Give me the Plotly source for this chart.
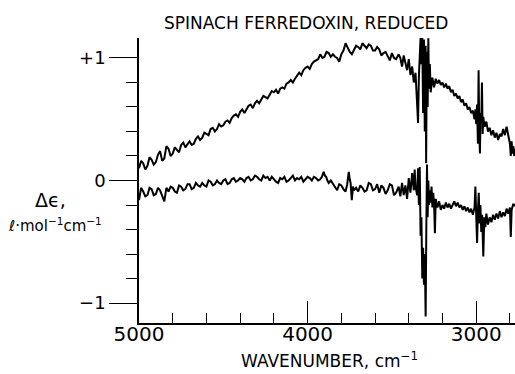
import plotly.graph_objects as go

# ---------------- data ----------------
upper_wn = [5000, 4987.5, 4975, 4962.5, 4950, 4937.5, 4925, 4912.5, 4900, 4887.5, 4875, 4862.5, 4850, 4837.5,
            4825, 4812.5, 4800, 4787.5, 4775, 4762.5, 4750, 4737.5, 4725, 4712.5, 4700, 4687.5, 4675, 4662.5,
            4650, 4637.5, 4625, 4612.5, 4600, 4587.5, 4575, 4562.5, 4550, 4537.5, 4525, 4512.5, 4500, 4487.5,
            4475, 4462.5, 4450, 4437.5, 4425, 4412.5, 4400, 4387.5, 4375, 4362.5, 4350, 4337.5, 4325, 4312.5,
            4300, 4287.5, 4275, 4262.5, 4250, 4237.5, 4225, 4212.5, 4200, 4187.5, 4175, 4162.5, 4150, 4137.5,
            4125, 4112.5, 4100, 4087.5, 4075, 4062.5, 4050, 4037.5, 4025, 4012.5, 4000, 3987.5, 3975, 3962.5,
            3950, 3937.5, 3925, 3912.5, 3900, 3887.5, 3875, 3862.5, 3850, 3837.5, 3825, 3812.5, 3800, 3787.5,
            3775, 3762.5, 3750, 3737.5, 3725, 3712.5, 3700, 3687.5, 3675, 3662.5, 3650, 3637.5, 3625, 3612.5,
            3600, 3587.5, 3575, 3562.5, 3550, 3537.5, 3525, 3512.5, 3500, 3487.5, 3475,
            3460, 3450, 3440, 3430, 3420, 3410, 3400, 3390, 3380, 3370, 3360, 3350, 3345, 3340, 3335, 3330,
            3325, 3320, 3315, 3310, 3305, 3300, 3297, 3293, 3288, 3284, 3280, 3275, 3270, 3260, 3250,
            3240, 3230, 3220, 3210, 3200, 3190, 3180, 3170, 3160, 3150, 3140, 3130, 3120, 3110, 3100,
            3090, 3080, 3070, 3060, 3050, 3040, 3030, 3020, 3010, 3005, 3000, 2995, 2990, 2986, 2982,
            2978, 2974, 2970, 2966, 2962, 2958, 2950, 2940, 2930, 2920, 2910, 2900, 2890, 2880, 2870,
            2860, 2850, 2840, 2830, 2820, 2810, 2800, 2795, 2790, 2785, 2780, 2775, 2770]
upper_de = [0.10, 0.16, 0.14, 0.09, 0.12, 0.19, 0.17, 0.13, 0.15, 0.21, 0.24, 0.16, 0.18, 0.28,
            0.26, 0.20, 0.22, 0.27, 0.25, 0.23, 0.29, 0.31, 0.27, 0.30, 0.32, 0.29, 0.30, 0.34,
            0.36, 0.33, 0.35, 0.39, 0.38, 0.37, 0.42, 0.43, 0.40, 0.42, 0.46, 0.44, 0.45, 0.48,
            0.49, 0.47, 0.51, 0.53, 0.54, 0.52, 0.56, 0.58, 0.55, 0.58, 0.61, 0.62, 0.59, 0.63,
            0.65, 0.63, 0.66, 0.69, 0.68, 0.67, 0.70, 0.73, 0.72, 0.74, 0.71, 0.75, 0.76, 0.75,
            0.79, 0.80, 0.82, 0.80, 0.83, 0.86, 0.88, 0.86, 0.90, 0.92, 0.93, 0.91, 0.95, 0.97,
            0.98, 0.99, 1.03, 1.00, 1.01, 1.05, 1.04, 1.01, 1.03, 1.01, 1.00, 0.97, 1.03, 1.06,
            1.12, 1.08, 1.05, 1.03, 1.07, 1.10, 1.09, 1.07, 1.12, 1.10, 1.08, 1.11, 1.10, 1.06,
            1.06, 1.09, 1.07, 1.02, 1.04, 1.05, 1.02, 0.98, 1.04, 1.00, 0.99,
            1.03, 1.00, 0.93, 1.02, 0.96, 0.90, 0.99, 0.86, 0.93, 0.80, 0.88, 0.62, 0.47, 0.85, 1.12, 1.17,
            0.95, 1.17, 0.55, 1.15, 0.40, 1.10, 0.14, 1.05, 0.60, 1.16, 0.75, 0.95, 0.72, 0.84, 0.76,
            0.83, 0.79, 0.82, 0.78, 0.80, 0.76, 0.79, 0.75, 0.77, 0.72, 0.74, 0.69, 0.71, 0.67, 0.69,
            0.64, 0.66, 0.61, 0.63, 0.58, 0.60, 0.55, 0.57, 0.50, 0.58, 0.46, 0.62, 0.30, 0.90, 0.40,
            0.22, 0.55, 0.47, 0.80, 0.38, 0.52, 0.44, 0.48, 0.40, 0.43, 0.37, 0.41, 0.35, 0.39, 0.33,
            0.38, 0.36, 0.42, 0.37, 0.44, 0.35, 0.30, 0.20, 0.32, 0.22, 0.28, 0.20, 0.26]

lower_wn = [5000, 4987.5, 4975, 4962.5, 4950, 4937.5, 4925, 4912.5, 4900, 4887.5, 4875, 4862.5, 4850, 4837.5,
            4825, 4812.5, 4800, 4787.5, 4775, 4762.5, 4750, 4737.5, 4725, 4712.5, 4700, 4687.5, 4675, 4662.5,
            4650, 4637.5, 4625, 4612.5, 4600, 4587.5, 4575, 4562.5, 4550, 4537.5, 4525, 4512.5, 4500, 4487.5,
            4475, 4462.5, 4450, 4437.5, 4425, 4412.5, 4400, 4387.5, 4375, 4362.5, 4350, 4337.5, 4325, 4312.5,
            4300, 4287.5, 4275, 4262.5, 4250, 4237.5, 4225, 4212.5, 4200, 4187.5, 4175, 4162.5, 4150, 4137.5,
            4125, 4112.5, 4100, 4087.5, 4075, 4062.5, 4050, 4037.5, 4025, 4012.5, 4000, 3987.5, 3975, 3962.5,
            3950, 3937.5, 3925, 3915, 3905, 3897.5, 3890, 3882.5, 3875, 3862.5, 3850, 3837.5, 3825, 3812.5,
            3800, 3787.5, 3775, 3765, 3756, 3750, 3745, 3738, 3731, 3725, 3712.5, 3700, 3687.5, 3675,
            3662.5, 3650, 3637.5, 3625, 3612.5, 3600, 3587.5, 3575, 3562.5, 3550, 3537.5, 3525, 3512.5,
            3500, 3487.5, 3475,
            3460, 3450, 3440, 3430, 3420, 3410, 3400, 3390, 3380, 3370, 3365, 3360, 3350, 3345, 3340,
            3335, 3330, 3325, 3320, 3315, 3310, 3305, 3300, 3296, 3292, 3288, 3284, 3280, 3276, 3270,
            3265, 3260, 3255, 3250, 3245, 3240, 3230, 3220, 3210, 3200, 3190, 3180, 3170, 3160, 3150,
            3140, 3130, 3120, 3110, 3100, 3090, 3080, 3070, 3060, 3050, 3040, 3030, 3020, 3010, 3005,
            3000, 2995, 2990, 2985, 2980, 2975, 2970, 2965, 2958, 2952, 2946, 2940, 2930, 2920, 2910,
            2900, 2890, 2880, 2870, 2860, 2850, 2840, 2830, 2820, 2810, 2800, 2795, 2790, 2780, 2770]
lower_de = [-0.16, -0.06, -0.09, -0.13, -0.12, -0.06, -0.07, -0.12, -0.11, -0.06, -0.08, -0.12, -0.17, -0.06,
            -0.09, -0.05, -0.06, -0.09, -0.10, -0.04, -0.05, -0.08, -0.07, -0.03, -0.03, -0.07, -0.06, -0.02,
            -0.04, -0.05, -0.02, -0.04, -0.05, 0.00, -0.01, -0.04, -0.03, 0.00, -0.02, -0.03, 0.00, 0.01,
            -0.03, -0.02, 0.01, 0.02, -0.01, 0.00, 0.02, 0.01, -0.01, 0.02, 0.03, 0.00, 0.01, 0.04,
            0.03, 0.01, 0.00, 0.04, 0.02, 0.03, 0.00, 0.03, 0.01, -0.01, -0.02, 0.02, 0.01, 0.03,
            -0.01, 0.00, 0.02, 0.04, 0.00, 0.02, 0.01, 0.03, -0.01, 0.01, 0.03, 0.02, 0.00, 0.03,
            0.02, 0.00, 0.01, 0.03, 0.07, 0.04, 0.03, 0.00, -0.02, 0.00, -0.03, -0.06, -0.08, -0.03,
            -0.04, -0.07, -0.09, -0.03, 0.07, 0.01, -0.02, -0.16, -0.05, -0.08, -0.06, -0.09, -0.04, -0.06,
            -0.09, -0.08, -0.02, -0.03, -0.08, -0.07, -0.03, -0.10, -0.04, -0.06, -0.11, -0.08, -0.03,
            -0.04, -0.12, -0.10,
            -0.05, -0.13, -0.02, -0.12, -0.04, -0.15, 0.02, -0.10, 0.06, -0.08, 0.09, -0.05, -0.12, 0.10, -0.20,
            0.11, -0.45, -0.30, -0.80, -0.55, -0.85, -0.60, -1.11, -0.40, 0.13, -0.30, 0.00, -0.20, -0.08, -0.18,
            -0.05, -0.22, -0.10, -0.19, -0.43, -0.15, -0.22, -0.17, -0.24, -0.20, -0.23, -0.18, -0.22, -0.19, -0.23,
            -0.20, -0.17, -0.21, -0.18, -0.22, -0.20, -0.24, -0.21, -0.25, -0.22, -0.26, -0.23, -0.28, -0.22, -0.05,
            -0.30, -0.51, -0.25, -0.10, -0.35, -0.20, -0.42, -0.28, -0.62, -0.30, -0.38, -0.27, -0.36, -0.30, -0.34,
            -0.28, -0.32, -0.27, -0.31, -0.25, -0.30, -0.26, -0.29, -0.23, -0.27, -0.22, -0.46, -0.24, -0.19, -0.21]

x_ticks = [5000, 4000, 3000]
x_tick_labels = ["5000", "4000", "3000"]
x_minor = [4800, 4600, 4400, 4200, 3800, 3600, 3400, 3200, 2800]
y_ticks = [-1, 0, 1]
y_tick_labels = ["\u22121", "0", "+1"]
y_minor = [-0.8, -0.6, -0.4, -0.2, 0.2, 0.4, 0.6, 0.8]

title_text = "SPINACH FERREDOXIN, REDUCED"
x_title = "WAVENUMBER, cm<sup>\u22121</sup>"
y_title_1 = "\u0394\u03f5,"
y_title_2 = "\u2113\u00b7mol<sup>\u22121</sup>cm<sup>\u22121</sup>"

# ---------------- figure ----------------
FONT = "DejaVu Sans"
W, H = 515, 374
L, R, T, B = 139, 0, 38, 51
pw, ph = W - L - R, H - T - B


def px(x):
    return (x - L) / pw


def py(y):
    return (H - B - y) / ph


fig = go.Figure()
line_style = dict(color="black", width=2)
fig.add_trace(go.Scatter(x=upper_wn, y=upper_de, mode="lines", line=line_style, showlegend=False))
fig.add_trace(go.Scatter(x=lower_wn, y=lower_de, mode="lines", line=line_style, showlegend=False))

fig.update_layout(
    width=W, height=H,
    margin=dict(l=L, r=R, t=T, b=B, pad=0, autoexpand=False),
    paper_bgcolor="white", plot_bgcolor="white",
    font=dict(family=FONT, color="black", size=19),
    xaxis=dict(
        range=[5000, 2770], showgrid=False, zeroline=False, automargin=False,
        showline=True, linecolor="black", linewidth=1.5,
        tickmode="array", tickvals=x_ticks, ticktext=x_tick_labels,
        ticks="inside", ticklen=22, tickwidth=1.4, tickcolor="black",
        ticklabelstandoff=-8,
        tickfont=dict(size=20, family=FONT),
        minor=dict(tickmode="array", tickvals=x_minor, ticks="inside", ticklen=10,
                   tickwidth=1.4, tickcolor="black"),
    ),
    yaxis=dict(
        range=[-1.163, 1.163], showgrid=False, zeroline=False, automargin=False,
        showline=True, linecolor="black", linewidth=1.5,
        tickmode="array", tickvals=y_ticks, ticktext=y_tick_labels,
        ticks="outside", ticklen=28, tickwidth=1.4, tickcolor="black",
        tickfont=dict(size=18, family=FONT),
        minor=dict(tickmode="array", tickvals=y_minor, ticks="outside", ticklen=11,
                   tickwidth=1.4, tickcolor="black"),
    ),
)

ann = dict(xref="paper", yref="paper", showarrow=False, xanchor="center", yanchor="middle")
fig.add_annotation(text=title_text, x=px(306), y=py(22.5), font=dict(size=17, family=FONT), **ann)
fig.add_annotation(text=x_title, x=px(329), y=py(360), font=dict(size=17, family=FONT), **ann)
fig.add_annotation(text=y_title_1, x=px(50), y=py(200), font=dict(size=19, family=FONT), **ann)
fig.add_annotation(text=y_title_2, x=px(55), y=py(225), font=dict(size=15, family=FONT), **ann)

# remove the browser's default 8px page margin so the figure sits at the window's corner
fig.write_html("out.html", config={"displayModeBar": False},
               post_script="document.body.style.margin='0';")
